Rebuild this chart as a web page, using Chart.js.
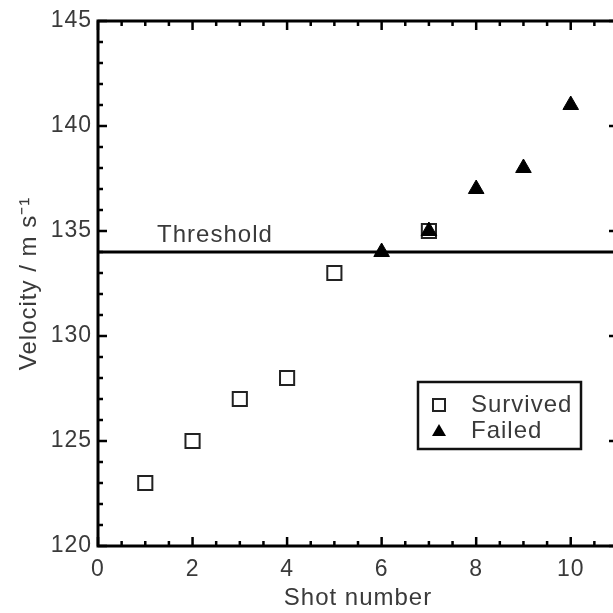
<!DOCTYPE html>
<html>
<head>
<meta charset="utf-8">
<script src="https://cdn.jsdelivr.net/npm/chart.js@4.4.0/dist/chart.umd.min.js"></script>
<style>
    html, body { margin: 0; padding: 0; overflow: hidden; background: #fff; width: 613px; height: 613px; }
    #wrap { position: relative; width: 630px; height: 613px; }
</style>
</head>
<body>
<div id="wrap"><canvas id="shotChart" width="630" height="613"></canvas></div>
<script>
// Datos
const survivedShots = [1, 2, 3, 4, 5, 7];
const survivedVelocity = [123, 125, 127, 128, 133, 135];
const failedShots = [6, 7, 8, 9, 10];
const failedVelocity = [134, 135, 137, 138, 141];
const thresholdVelocity = 134;
const xTickLabels = [0, 2, 4, 6, 8, 10];
const yTickLabels = [120, 125, 130, 135, 140, 145];

const FONT = '"Liberation Sans", Arial, sans-serif';
const TEXT = '#3a3a3a';

// Espaciado de letras un poco más ancho (parecido a Helvetica)
const spacing = {
    id: 'spacing',
    beforeUpdate(chart) { chart.ctx.letterSpacing = '1px'; },
    beforeDraw(chart) { chart.ctx.letterSpacing = '1px'; }
};

// Marco con marcas hacia dentro, etiqueta del umbral y leyenda
const frameTicks = {
    id: 'frameTicks',
    afterDatasetsDraw(chart) {
        const { ctx, chartArea: a, scales: { x, y } } = chart;
        ctx.save();
        ctx.strokeStyle = '#000';
        ctx.lineWidth = 3;
        ctx.strokeRect(a.left, a.top, a.right - a.left, a.bottom - a.top);

        ctx.lineWidth = 2.5;
        ctx.beginPath();
        x.ticks.forEach(t => {
            const px = x.getPixelForValue(t.value);
            const len = xTickLabels.includes(t.value) ? 9 : 5;
            ctx.moveTo(px, a.bottom); ctx.lineTo(px, a.bottom - len);
            ctx.moveTo(px, a.top); ctx.lineTo(px, a.top + len);
        });
        y.ticks.forEach(t => {
            const py = y.getPixelForValue(t.value);
            const len = yTickLabels.includes(t.value) ? 9 : 5;
            ctx.moveTo(a.left, py); ctx.lineTo(a.left + len, py);
            ctx.moveTo(a.right, py); ctx.lineTo(a.right - len, py);
        });
        ctx.stroke();

        // Etiqueta del umbral
        ctx.fillStyle = TEXT;
        ctx.font = '24px ' + FONT;
        ctx.textAlign = 'left';
        ctx.textBaseline = 'alphabetic';
        ctx.fillText('Threshold', x.getPixelForValue(1.25), y.getPixelForValue(thresholdVelocity) - 10);

        // Leyenda
        const lx = a.left + 320, ly = a.top + 361;
        ctx.lineWidth = 2.5;
        ctx.strokeStyle = '#111';
        ctx.strokeRect(lx, ly, 163, 67);

        const sets = chart.data.datasets.filter(d => d.showInLegend);
        sets.forEach((ds, i) => {
            const cx = lx + 21, cy = ly + 23 + i * 26;
            ctx.beginPath();
            if (ds.pointStyle === 'rect') {
                ctx.fillStyle = '#fff';
                ctx.lineWidth = 2;
                ctx.strokeStyle = '#222';
                ctx.rect(cx - 6, cy - 6, 12, 12);
                ctx.fill();
                ctx.stroke();
            } else {
                ctx.fillStyle = '#000';
                ctx.moveTo(cx, cy - 7);
                ctx.lineTo(cx + 7, cy + 5);
                ctx.lineTo(cx - 7, cy + 5);
                ctx.closePath();
                ctx.fill();
            }
            ctx.fillStyle = TEXT;
            ctx.font = '24px ' + FONT;
            ctx.textBaseline = 'middle';
            ctx.fillText(ds.label, lx + 53, cy);
        });
        ctx.restore();
    }
};

const ctx = document.getElementById('shotChart').getContext('2d');
new Chart(ctx, {
    type: 'scatter',
    data: {
        datasets: [
            {
                label: 'Threshold',
                type: 'line',
                data: [{ x: 0, y: thresholdVelocity }, { x: 11, y: thresholdVelocity }],
                borderColor: '#000',
                borderWidth: 3,
                pointRadius: 0,
                order: 3
            },
            {
                label: 'Survived',
                showInLegend: true,
                data: survivedShots.map((s, i) => ({ x: s, y: survivedVelocity[i] })),
                pointStyle: 'rect',
                pointRadius: 10,
                backgroundColor: '#fff',
                borderColor: '#222',
                borderWidth: 2,
                order: 2
            },
            {
                label: 'Failed',
                showInLegend: true,
                data: failedShots.map((s, i) => ({ x: s, y: failedVelocity[i] })),
                pointStyle: 'triangle',
                pointRadius: 9,
                backgroundColor: '#000',
                borderColor: '#000',
                borderWidth: 1,
                order: 1
            }
        ]
    },
    options: {
        responsive: false,
        animation: false,
        events: [],
        layout: { padding: { left: 15, top: 21, right: 7, bottom: 0 } },
        plugins: {
            legend: { display: false },
            tooltip: { enabled: false }
        },
        scales: {
            x: {
                type: 'linear',
                min: 0,
                max: 11,
                border: { display: false },
                grid: { display: false, drawTicks: false },
                ticks: {
                    stepSize: 0.5,
                    autoSkip: false,
                    maxRotation: 0,
                    padding: 10,
                    color: TEXT,
                    font: { family: FONT, size: 23 },
                    callback: v => xTickLabels.includes(v) ? String(v) : ''
                },
                title: {
                    display: true,
                    text: 'Shot number',
                    color: TEXT,
                    padding: 0,
                    font: { family: FONT, size: 24 }
                },
                afterFit(scale) { scale.height = 67; }
            },
            y: {
                min: 120,
                max: 145,
                border: { display: false },
                grid: { display: false, drawTicks: false },
                ticks: {
                    stepSize: 1,
                    autoSkip: false,
                    padding: 6,
                    color: TEXT,
                    font: { family: FONT, size: 23 },
                    callback: v => yTickLabels.includes(v) ? String(v) : ''
                },
                title: {
                    display: true,
                    text: 'Velocity / m s\u207B\u00B9',
                    color: TEXT,
                    padding: 0,
                    font: { family: FONT, size: 24 }
                },
                afterFit(scale) { scale.width = 83; }
            }
        }
    },
    plugins: [spacing, frameTicks]
});
</script>
</body>
</html>
